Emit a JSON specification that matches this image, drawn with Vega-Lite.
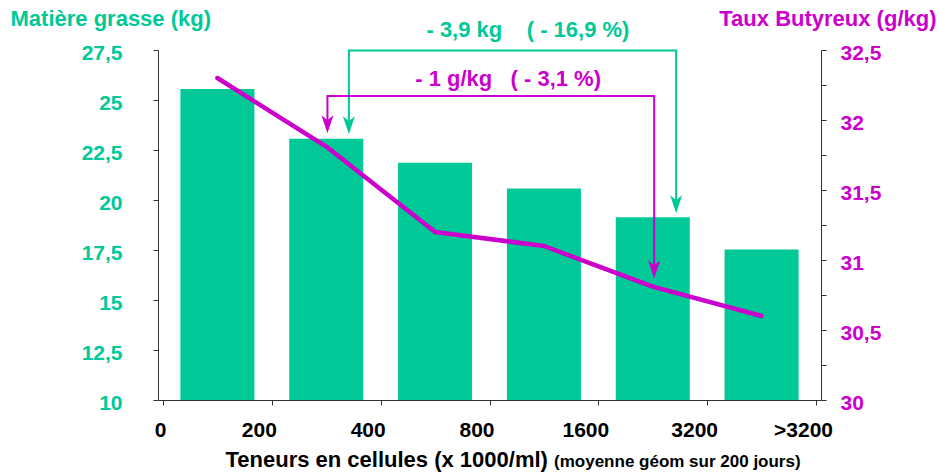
{
  "$schema": "https://vega.github.io/schema/vega-lite/v6.json",
  "autosize": "none",
  "width": 663,
  "height": 350,
  "padding": {"left": 158, "top": 50, "right": 118, "bottom": 73},
  "background": "white",
  "config": {"view": {"stroke": null}, "font": "Liberation Sans"},
  "datasets": {
    "main": [
      {"x": 0.5, "mg": 25.55, "tb": 32.30},
      {"x": 1.5, "mg": 23.06, "tb": 31.81},
      {"x": 2.5, "mg": 21.86, "tb": 31.20},
      {"x": 3.5, "mg": 20.58, "tb": 31.10},
      {"x": 4.5, "mg": 19.14, "tb": 30.81},
      {"x": 5.5, "mg": 17.52, "tb": 30.60}
    ],
    "brackets": [
      {"serie": "MG", "ordre": 1, "x": 1.708, "mg": 23.7},
      {"serie": "MG", "ordre": 2, "x": 1.708, "mg": 27.47},
      {"serie": "MG", "ordre": 3, "x": 4.715, "mg": 27.47},
      {"serie": "MG", "ordre": 4, "x": 4.715, "mg": 19.7},
      {"serie": "TB", "ordre": 1, "x": 1.511, "mg": 23.7},
      {"serie": "TB", "ordre": 2, "x": 1.511, "mg": 25.2},
      {"serie": "TB", "ordre": 3, "x": 4.513, "mg": 25.2},
      {"serie": "TB", "ordre": 4, "x": 4.513, "mg": 16.45}
    ],
    "tips": [
      {"serie": "MG", "x": 1.708, "mg": 23.29},
      {"serie": "MG", "x": 4.715, "mg": 19.34},
      {"serie": "TB", "x": 1.511, "mg": 23.34},
      {"serie": "TB", "x": 4.513, "mg": 16.08}
    ],
    "labels": [
      {"serie": "MG", "x": 3.353, "mg": 28.13, "label": "- 3,9 kg\u00a0\u00a0\u00a0\u00a0( - 16,9 %)"},
      {"serie": "TB", "x": 3.171, "mg": 25.70, "label": "- 1 g/kg\u00a0\u00a0\u00a0( - 3,1 %)"}
    ],
    "note": [
      {"x": 3.593, "mg": 6.67, "label": "(moyenne géom sur 200 jours)"}
    ]
  },
  "layer": [
    {
      "layer": [
        {
          "data": {"name": "main"},
          "mark": {"type": "bar", "width": 74, "color": "#00C997"},
          "encoding": {
            "x": {
              "field": "x", "type": "quantitative",
              "scale": {"domain": [0, 6], "nice": false, "zero": false},
              "axis": {
                "values": [0, 1, 2, 3, 4, 5, 6],
                "labelExpr": "['0','200','400','800','1600','3200','>3200'][datum.value]",
                "grid": false,
                "domainColor": "#333333",
                "tickColor": "#333333",
                "tickSize": 5,
                "labelFontSize": 21,
                "labelFontWeight": "bold",
                "labelColor": "#000000",
                "labelPadding": 14,
                "labelOffset": {"condition": [{"test": "datum.value == 0", "value": -3}, {"test": "datum.value == 6", "value": -13}], "value": -13},
                "labelFlush": false,
                "labelOverlap": false,
                "labelBound": false,
                "title": "Teneurs en cellules (x 1000/ml)",
                "titleFontSize": 22,
                "titleFontWeight": "bold",
                "titleColor": "#000000",
                "titleAlign": "left",
                "titleAnchor": "start",
                "titleBaseline": "alphabetic",
                "titleX": 67,
                "titleY": 66
              }
            },
            "y": {
              "field": "mg", "type": "quantitative",
              "scale": {"domain": [10, 27.5], "nice": false, "zero": false},
              "axis": {
                "values": [10, 12.5, 15, 17.5, 20, 22.5, 25, 27.5],
                "labelExpr": "replace(format(datum.value, '~g'), '.', ',')",
                "grid": false,
                "domainColor": "#333333",
                "tickColor": "#333333",
                "tickSize": 5,
                "labelFontSize": 21,
                "labelFontWeight": "bold",
                "labelColor": "#00C997",
                "labelPadding": 31,
                "labelOffset": 3,
                "labelFlush": false,
                "labelOverlap": false,
                "labelBound": false,
                "title": "Matière grasse (kg)",
                "titleAngle": 0,
                "titleAlign": "left",
                "titleAnchor": "end",
                "titleBaseline": "alphabetic",
                "titleX": -148,
                "titleY": -25,
                "titleFontSize": 22,
                "titleFontWeight": "bold",
                "titleColor": "#00C997"
              }
            },
            "y2": {"datum": 10}
          }
        },
        {
          "data": {"name": "brackets"},
          "mark": {"type": "line", "strokeWidth": 2},
          "encoding": {
            "x": {"field": "x", "type": "quantitative"},
            "y": {"field": "mg", "type": "quantitative"},
            "order": {"field": "ordre"},
            "color": {"field": "serie", "type": "nominal", "legend": null,
              "scale": {"domain": ["MG", "TB"], "range": ["#00C997", "#CC00CC"]}}
          }
        },
        {
          "data": {"name": "tips"},
          "mark": {"type": "point", "filled": true, "opacity": 1, "size": 144, "shape": "M0,0L-1,-3L0,-2.2L1,-3Z", "strokeWidth": 0},
          "encoding": {
            "x": {"field": "x", "type": "quantitative"},
            "y": {"field": "mg", "type": "quantitative"},
            "color": {"field": "serie", "type": "nominal", "legend": null,
              "scale": {"domain": ["MG", "TB"], "range": ["#00C997", "#CC00CC"]}}
          }
        },
        {
          "data": {"name": "labels"},
          "mark": {"type": "text", "fontSize": 22, "fontWeight": "bold", "align": "center", "baseline": "alphabetic"},
          "encoding": {
            "x": {"field": "x", "type": "quantitative"},
            "y": {"field": "mg", "type": "quantitative"},
            "text": {"field": "label"},
            "color": {"field": "serie", "type": "nominal", "legend": null,
              "scale": {"domain": ["MG", "TB"], "range": ["#00C997", "#CC00CC"]}}
          }
        },
        {
          "data": {"name": "note"},
          "mark": {"type": "text", "fontSize": 17, "fontWeight": "bold", "align": "left", "baseline": "alphabetic", "color": "#000000"},
          "encoding": {
            "x": {"field": "x", "type": "quantitative"},
            "y": {"field": "mg", "type": "quantitative"},
            "text": {"field": "label"}
          }
        }
      ]
    },
    {
      "data": {"name": "main"},
      "mark": {"type": "line", "color": "#CC00CC", "strokeWidth": 4.5, "strokeJoin": "round", "strokeCap": "round"},
      "encoding": {
        "x": {"field": "x", "type": "quantitative"},
        "y": {
          "field": "tb", "type": "quantitative",
          "scale": {"domain": [30, 32.5], "nice": false, "zero": false},
          "axis": {
            "orient": "right",
            "values": [30, 30.25, 30.5, 30.75, 31, 31.25, 31.5, 31.75, 32, 32.25, 32.5],
            "labelExpr": "datum.value % 0.5 == 0 ? replace(format(datum.value, '~g'), '.', ',') : ''",
            "grid": false,
            "domainColor": "#333333",
            "tickColor": "#333333",
            "tickSize": 5,
            "labelFontSize": 21,
            "labelFontWeight": "bold",
            "labelColor": "#CC00CC",
            "labelPadding": 14,
            "labelOffset": 3,
            "labelFlush": false,
            "labelOverlap": false,
            "labelBound": false,
            "title": "Taux Butyreux (g/kg)",
            "titleAngle": 0,
            "titleAlign": "right",
            "titleAnchor": "end",
            "titleBaseline": "alphabetic",
            "titleX": 115,
            "titleY": -25,
            "titleFontSize": 22,
            "titleFontWeight": "bold",
            "titleColor": "#CC00CC"
          }
        }
      }
    }
  ],
  "resolve": {"scale": {"y": "independent"}}
}
